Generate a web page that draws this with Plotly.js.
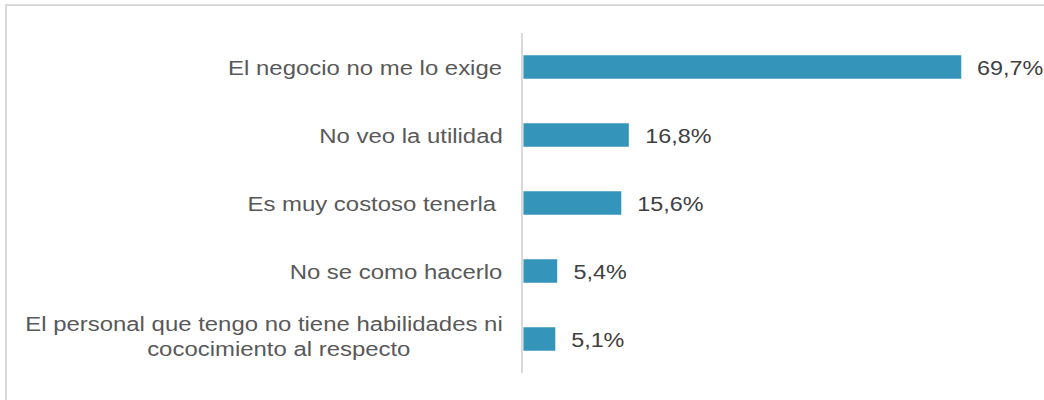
<!DOCTYPE html>
<html>
<head>
<meta charset="utf-8">
<script src="https://cdn.plot.ly/plotly-3.0.1.min.js"></script>
<style>
  html, body { margin: 0; padding: 0; background: #ffffff; }
  #wrap { position: relative; width: 1044px; height: 400px; overflow: hidden; }
  #frame { position: absolute; left: 5px; top: 4px; width: 1200px; height: 600px;
           border: 2px solid #D9D9D9; box-sizing: border-box; }
  /* the chart is laid out a bit narrower and widened to fill the frame */
  #chart { position: absolute; left: 0; top: 0; width: 916px; height: 400px;
           transform: scaleX(1.14); transform-origin: 0 0; }
</style>
</head>
<body>
<div id="wrap">
  <div id="frame"></div>
  <div id="chart"></div>
</div>
<script>
// Reasons given for not having it (share of respondents, %)
const categories = [
  "El negocio no me lo exige",
  "No veo la utilidad",
  "Es muy costoso tenerla\u00A0",
  "No se como hacerlo",
  "El personal que tengo no tiene habilidades ni<br>cococimiento al respecto"
];
const values = [69.7, 16.8, 15.6, 5.4, 5.1];

const barColor = "#3494BA";
const labelColor = "#595959";
const valueColor = "#404040";
const fontFamily = "Liberation Sans, Arial, sans-serif";

const fmt = v => v.toFixed(1).replace(".", ",") + "%";
const idx = categories.map((_, i) => i);

const trace = {
  type: "bar",
  orientation: "h",
  x: values,
  y: idx,
  marker: { color: barColor },
  hoverinfo: "skip"
};

// category names to the left of the axis; a wrapped name is set line by line
const wrapped = [
  { yshift: 16, xshift: -16 },   // first line
  { yshift: -9, xshift: -97 }    // second line, pulled towards the middle
];
const catNotes = [];
categories.forEach((c, i) => {
  const lines = c.split("<br>");
  lines.forEach((line, k) => {
    const pos = lines.length > 1 ? wrapped[k] : { yshift: 0, xshift: -16 };
    catNotes.push({
      xref: "paper", yref: "y",
      x: 0, y: i,
      text: line,
      showarrow: false,
      xanchor: "right", yanchor: "middle",
      xshift: pos.xshift, yshift: pos.yshift,
      font: { family: fontFamily, size: 21, color: labelColor }
    });
  });
});

// value labels just past the end of each bar
const valueNotes = values.map((v, i) => ({
  xref: "x", yref: "y",
  x: v, y: i,
  text: fmt(v),
  showarrow: false,
  xanchor: "left", yanchor: "middle",
  xshift: 12,
  font: { family: fontFamily, size: 20.5, color: valueColor }
}));

const layout = {
  width: 916, height: 400,
  margin: { l: 459, r: 16, t: 33, b: 27 },
  paper_bgcolor: "rgba(0,0,0,0)",
  plot_bgcolor: "rgba(0,0,0,0)",
  showlegend: false,
  bargap: 0.656,
  xaxis: {
    range: [0, 80],
    showgrid: false, zeroline: false, showline: false,
    showticklabels: false, ticks: ""
  },
  yaxis: {
    type: "linear",
    range: [4.5, -0.5],
    showgrid: false, zeroline: false,
    showline: true, linecolor: "#D9D9D9", linewidth: 2,
    showticklabels: false, ticks: ""
  },
  annotations: catNotes.concat(valueNotes)
};

Plotly.newPlot("chart", [trace], layout, { displayModeBar: false, staticPlot: true });
</script>
</body>
</html>
